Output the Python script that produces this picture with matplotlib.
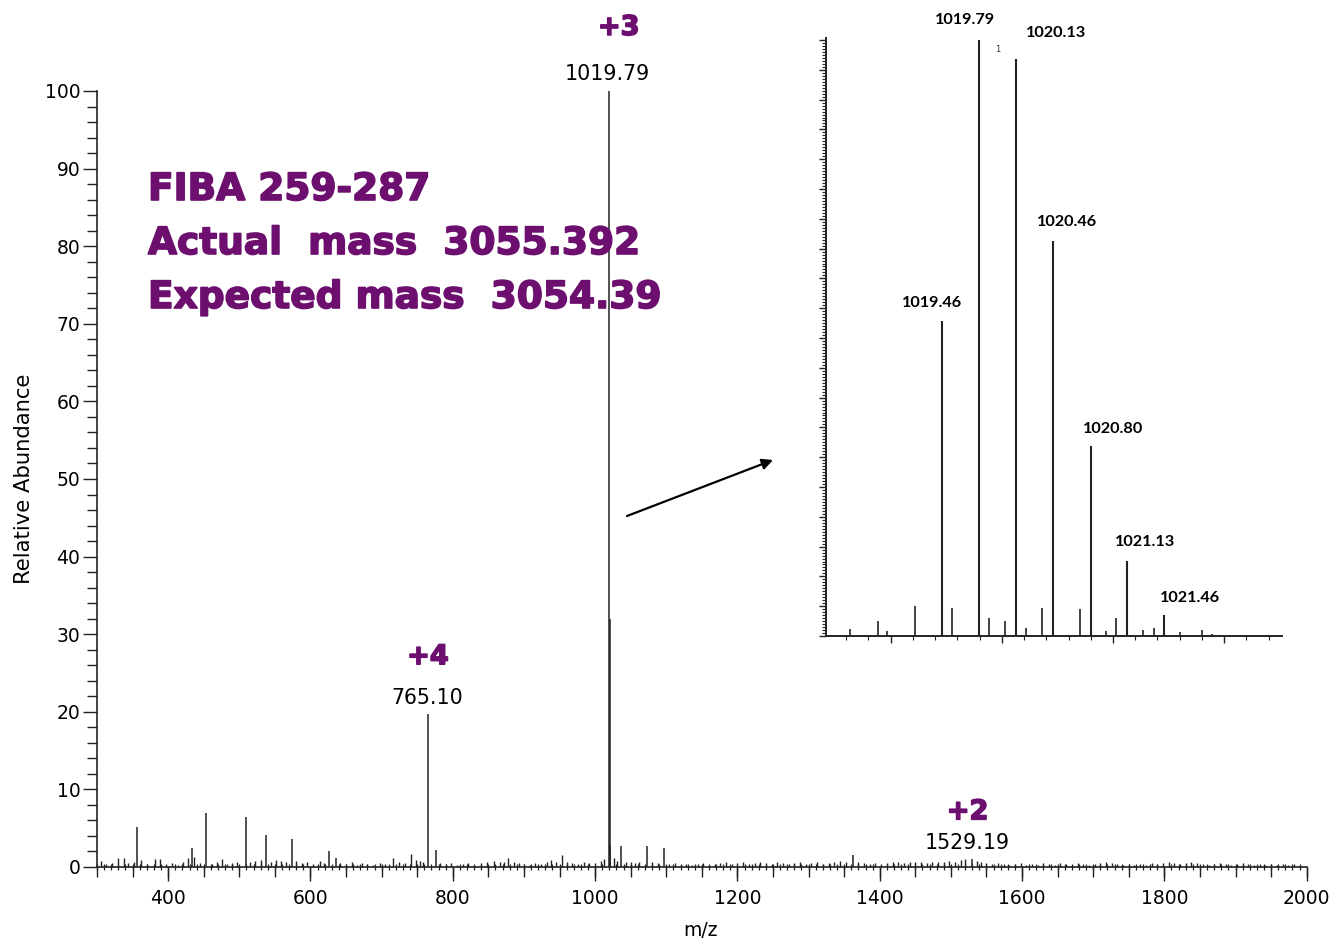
import matplotlib
matplotlib.use('Agg')
import matplotlib.pyplot as plt
import matplotlib.patheffects as pe
from matplotlib.ticker import MultipleLocator, NullFormatter

plt.rcParams['font.family'] = ['DejaVu Sans']

# ---------------- data ----------------
# main spectrum: prominent peaks
peak_mz = [355.7, 433.4, 452.7, 508.9, 537.4, 574.0, 625.4, 635.7, 765.10, 775.8,
           1019.79, 1020.46, 1021.6, 1037.0, 1073.6, 1096.9, 1362.4, 1529.19]
peak_int = [5.2, 2.4, 6.9, 6.5, 4.1, 3.6, 2.1, 1.2, 19.7, 2.2,
            100.0, 32.0, 2.8, 2.7, 2.7, 2.4, 1.6, 1.0]

# main spectrum: small baseline peaks
noise_mz = [306, 312, 321, 330, 338, 344, 352, 362, 370, 381, 389, 397, 405, 414, 421, 428,
            437, 445, 461, 468, 475, 483, 490, 497, 515, 522, 530, 545, 552, 559, 566, 580,
            588, 595, 604, 613, 619, 642, 650, 658, 665, 672, 680, 688, 697, 705, 716, 724,
            733, 741, 748, 754, 758, 782, 790, 798, 806, 814, 822, 830, 840, 848, 858, 866,
            872, 878, 886, 893, 900, 908, 916, 924, 932, 938.7, 945, 952.8, 960, 968, 976, 984,
            992, 1000, 1008, 1013, 1027, 1031, 1044, 1050, 1056, 1062, 1080, 1088, 1104, 1112,
            1120, 1128, 1136, 1144, 1152, 1160, 1168, 1176, 1184, 1192, 1200, 1208, 1216, 1224,
            1232, 1240, 1248, 1256, 1264, 1272, 1280, 1288, 1296, 1304, 1312, 1320, 1328, 1336,
            1344, 1352, 1370, 1378, 1386, 1394, 1402, 1410, 1418, 1426, 1434, 1442, 1450, 1458,
            1466, 1474, 1482, 1490, 1498, 1506, 1514, 1520, 1536, 1542, 1550, 1558, 1566, 1574,
            1582, 1590, 1598, 1606, 1614, 1622, 1630, 1638, 1646, 1654, 1662, 1670, 1678, 1686,
            1694, 1702, 1710, 1718, 1726, 1734, 1742, 1750, 1758, 1766, 1774, 1782, 1790, 1798,
            1806, 1814, 1822, 1830, 1838, 1846, 1854, 1862, 1870, 1878, 1886, 1894, 1902, 1910,
            1918, 1926, 1934, 1942, 1950, 1958, 1966, 1974, 1982, 1990]
noise_int = [0.8, 0.4, 0.5, 1.1, 1.2, 0.5, 0.6, 0.9, 0.4, 1.0, 1.0, 0.4, 0.5, 0.3, 0.6, 1.1,
             1.3, 0.5, 0.4, 0.6, 1.0, 0.4, 0.5, 0.7, 0.6, 0.8, 0.9, 0.7, 0.9, 0.8, 0.6, 0.8,
             0.5, 0.6, 0.4, 0.8, 0.5, 0.5, 0.4, 0.6, 0.3, 0.5, 0.4, 0.3, 0.5, 0.4, 1.2, 0.6,
             0.5, 1.7, 0.9, 0.8, 0.7, 0.5, 0.4, 0.5, 0.3, 0.4, 0.5, 0.3, 0.5, 0.6, 0.8, 0.7,
             0.6, 1.2, 0.7, 0.5, 0.4, 0.3, 0.5, 0.4, 0.6, 0.9, 0.6, 1.6, 0.7, 0.5, 0.4, 0.6,
             0.5, 0.5, 0.8, 1.0, 1.2, 0.8, 0.6, 0.7, 0.5, 0.6, 0.6, 0.5, 0.4, 0.5,
             0.3, 0.4, 0.3, 0.4, 0.5, 0.3, 0.4, 0.5, 0.6, 0.4, 0.5, 0.6, 0.4, 0.5,
             0.7, 0.5, 0.4, 0.6, 0.5, 0.4, 0.5, 0.6, 0.4, 0.5, 0.6, 0.4, 0.5, 0.7,
             0.8, 0.6, 0.7, 0.5, 0.4, 0.5, 0.4, 0.5, 0.6, 0.7, 0.5, 0.6, 0.7, 0.6,
             0.5, 0.6, 0.7, 0.6, 0.8, 0.7, 0.9, 1.0, 0.8, 0.7, 0.5, 0.4, 0.5, 0.4,
             0.3, 0.4, 0.5, 0.3, 0.4, 0.3, 0.5, 0.4, 0.3, 0.5, 0.4, 0.3, 0.5, 0.4,
             0.3, 0.4, 0.5, 0.6, 0.5, 0.4, 0.3, 0.4, 0.3, 0.4, 0.3, 0.5, 0.4, 0.5,
             0.6, 0.5, 0.4, 0.5, 0.6, 0.5, 0.4, 0.3, 0.4, 0.5, 0.4, 0.3, 0.4, 0.5,
             0.4, 0.3, 0.4, 0.3, 0.4, 0.3, 0.4, 0.3, 0.4, 0.3]

# annotated charge states in main spectrum
charge_labels = ['+3', '+4', '+2']
charge_mz = [1019.79, 765.10, 1529.19]
charge_int = [100.0, 19.7, 1.0]
charge_text = ['1019.79', '765.10', '1529.19']

# inset: isotope cluster of +3 ion
iso_mz = [1019.46, 1019.79, 1020.13, 1020.46, 1020.80, 1021.13, 1021.46]
iso_int = [52.9, 100.0, 96.8, 66.3, 31.9, 12.6, 3.6]
iso_text = ['1019.46', '1019.79', '1020.13', '1020.46', '1020.80', '1021.13', '1021.46']

# inset: minor peaks
inset_small_mz = [1018.635, 1018.89, 1018.965, 1019.22, 1019.55, 1019.886, 1020.03, 1020.22,
                  1020.36, 1020.70, 1020.94, 1021.03, 1021.27, 1021.37, 1021.60, 1021.80, 1021.89]
inset_small_int = [1.1, 2.6, 0.8, 5.0, 4.7, 3.1, 2.5, 1.4,
                   4.7, 4.5, 0.8, 3.1, 1.0, 1.4, 0.6, 1.0, 0.4]

text_lines = ['FIBA 259-287', 'Actual  mass  3055.392', 'Expected mass  3054.39']

# ---------------- figure ----------------
W, H = 1334, 939
fig = plt.figure(figsize=(W / 100, H / 100), dpi=100)
purple = '#6c0f6e'
line_col = '#222222'
heavy = [pe.withStroke(linewidth=1.2, foreground=purple)]

def fx(px):
    return px / W

def fy(py):
    return 1 - py / H

ax = fig.add_axes([fx(97), fy(867), fx(1306.7) - fx(97), fy(91) - fy(867)])
ax.vlines(noise_mz, 0, noise_int, color=line_col, lw=1.0, clip_on=False)
ax.vlines(peak_mz, 0, peak_int, color=line_col, lw=1.1)
ax.set_xlim(300, 2000)
ax.set_ylim(0, 100)
for s in ['top', 'right']:
    ax.spines[s].set_visible(False)
for s in ['left', 'bottom']:
    ax.spines[s].set_linewidth(1.2)
    ax.spines[s].set_color('#222222')

ax.xaxis.set_major_locator(MultipleLocator(200))
ax.xaxis.set_minor_locator(MultipleLocator(10))
ax.yaxis.set_major_locator(MultipleLocator(10))
ax.yaxis.set_minor_locator(MultipleLocator(2))
ax.tick_params(axis='both', which='major', direction='out', length=10, width=1.0,
               labelsize=13.5, color='#222222')
ax.tick_params(axis='y', which='major', pad=2)
ax.tick_params(axis='x', which='major', pad=6)
ax.tick_params(axis='y', which='minor', direction='out', length=7, width=1.0, color='#222222')
ax.tick_params(axis='x', which='minor', direction='inout', length=5, width=0.9, color='#222222')

# extra 50-step ticks on x
sec = ax.secondary_xaxis('bottom')
sec.xaxis.set_major_locator(MultipleLocator(50))
sec.xaxis.set_major_formatter(NullFormatter())
sec.tick_params(axis='x', which='major', direction='out', length=7, width=1.0, color='#222222')
sec.spines['bottom'].set_visible(False)

ax.set_ylabel('Relative Abundance', fontsize=15.2)
ax.yaxis.set_label_coords(-0.052, 0.5)
ax.set_xlabel('m/z', fontsize=13.5)
ax.xaxis.set_label_coords(0.4985, -0.069)

# charge-state annotations
charge_text_offsets = [(-1, 12.2), (-0.8, 11.5), (-2.9, 11.5)]
charge_sym_offsets = [(6.9, 45.4), (0.0, 41.0), (-2.9, 33.8)]
for lab, mz, it, txt, o1, o2 in zip(charge_labels, charge_mz, charge_int, charge_text,
                                    charge_text_offsets, charge_sym_offsets):
    ax.annotate(txt, xy=(mz, it), xytext=o1, textcoords='offset points',
                ha='center', va='center', fontsize=14.8, color='black', annotation_clip=False)
    ax.annotate(lab, xy=(mz, it), xytext=o2, textcoords='offset points',
                ha='center', va='center', fontsize=19.5, fontweight='bold', color=purple,
                annotation_clip=False, path_effects=heavy)

# purple text block
for t, by in zip(text_lines, [200, 254, 308]):
    fig.text(fx(148), fy(by), t, fontsize=27, fontweight='bold', color=purple,
             ha='left', va='baseline', path_effects=heavy)

# arrow
ax.annotate('', xy=(fx(773), fy(460)), xytext=(fx(627), fy(516)),
            xycoords='figure fraction', textcoords='figure fraction',
            arrowprops=dict(arrowstyle='-|>', color='black', lw=1.6, mutation_scale=16,
                            shrinkA=0, shrinkB=0))

# ---------------- inset ----------------
axi = fig.add_axes([fx(826), fy(636), fx(1282) - fx(826), fy(38) - fy(636)])
axi.vlines(inset_small_mz, 0, inset_small_int, color=line_col, lw=1.2)
axi.vlines(iso_mz, 0, iso_int, color=line_col, lw=1.5)
axi.set_xlim(1018.418, 1022.52)
axi.set_ylim(0, 100.34)
for s in ['top', 'right']:
    axi.spines[s].set_visible(False)
for s in ['left', 'bottom']:
    axi.spines[s].set_linewidth(1.4)
    axi.spines[s].set_color('#222222')
axi.xaxis.set_major_locator(MultipleLocator(1.0))
axi.xaxis.set_minor_locator(MultipleLocator(0.2))
axi.yaxis.set_major_locator(MultipleLocator(5))
axi.yaxis.set_minor_locator(MultipleLocator(0.5))
axi.xaxis.set_major_formatter(NullFormatter())
axi.yaxis.set_major_formatter(NullFormatter())
axi.tick_params(axis='both', which='major', direction='out', length=5, width=1.0, color='#222222')
axi.tick_params(axis='both', which='minor', direction='out', length=3, width=0.8, color='#222222')

iso_offsets = [(-7.2, 13), (-10, 14.4), (28.8, 18.7), (10, 13.7), (15.8, 12.2), (13, 13.7), (18.7, 12.2)]
for mz, it, txt, off in zip(iso_mz, iso_int, iso_text, iso_offsets):
    axi.annotate(txt, xy=(mz, it), xytext=off, textcoords='offset points',
                 ha='center', va='center', fontsize=11.7, fontweight='bold',
                 family=['Lato', 'DejaVu Sans'], color='black', annotation_clip=False)
axi.text((998 - 826) / 456, (636 - 50) / 598, '1', transform=axi.transAxes,
         fontsize=6, ha='center', va='center', color='#333333')

fig.savefig('out.png', dpi=100)
